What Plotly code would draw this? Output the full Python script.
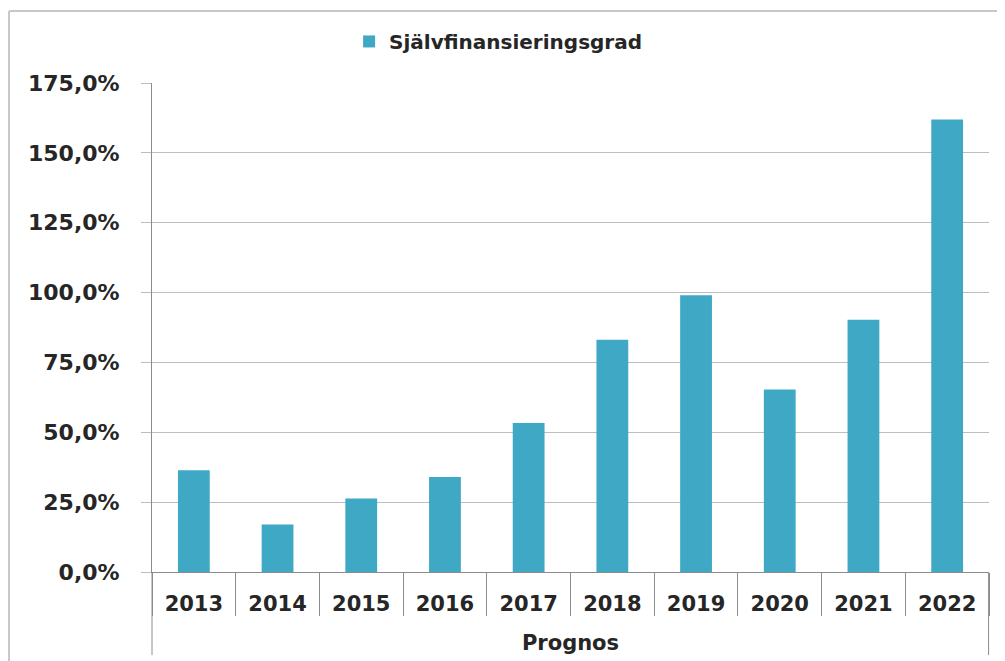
import plotly.graph_objects as go

years = ["2013", "2014", "2015", "2016", "2017", "2018", "2019", "2020", "2021", "2022"]
values = [36.4, 17.0, 26.3, 34.0, 53.3, 83.1, 99.0, 65.3, 90.3, 161.9]
series_name = "Självfinansieringsgrad"
x_title = "Prognos"
y_ticks = [0, 25, 50, 75, 100, 125, 150, 175]
y_ticktext = ["0,0%", "25,0%", "50,0%", "75,0%", "100,0%", "125,0%", "150,0%", "175,0%"]

FONT = "DejaVu Sans"
TXT = "#262626"
GRID = "#BDBDBD"
AXIS = "#8C8C8C"
BAR = "#3FA8C5"
FRAME = "#C8C8C8"

fig = go.Figure()
fig.add_trace(go.Bar(
    x=years,
    y=values,
    name=series_name,
    marker=dict(color=BAR, line=dict(width=0)),
    showlegend=True,
))

fig.update_layout(
    width=997, height=653,
    margin=dict(l=144, r=16, t=75, b=89, autoexpand=False),
    paper_bgcolor="white",
    plot_bgcolor="white",
    bargap=0.62,
    font=dict(family=FONT, color=TXT, size=20),
    showlegend=True,
    legend=dict(
        orientation="h", x=0.4135, xanchor="center", y=1.085, yanchor="middle",
        font=dict(family=FONT, size=20, color=TXT, weight="bold"),
        bgcolor="rgba(0,0,0,0)",
    ),
    xaxis=dict(
        type="category",
        showline=True, linecolor=AXIS, linewidth=1,
        ticks="outside", ticklen=43, tickcolor=AXIS, tickwidth=1,
        tickson="boundaries",
        ticklabelstandoff=13,
        tickfont=dict(family=FONT, size=21, color=TXT, weight="bold"),
        showgrid=False,
        title=dict(text=x_title, standoff=20,
                   font=dict(family=FONT, size=21, color=TXT, weight="bold")),
        automargin=False,
    ),
    yaxis=dict(
        range=[0, 175], tickvals=y_ticks, ticktext=y_ticktext,
        showgrid=True, gridcolor=GRID, gridwidth=1,
        showline=True, linecolor=AXIS, linewidth=1,
        ticks="outside", ticklen=10, tickcolor=GRID,
        ticklabelstandoff=17,
        tickfont=dict(family=FONT, size=22, color=TXT, weight="bold"),
        zeroline=False,
        automargin=False,
    ),
    shapes=[
        # outer chart frame
        dict(type="line", xref="paper", yref="paper", x0=-0.1708, x1=1.05, y0=1.147, y1=1.147,
             line=dict(color=FRAME, width=2)),
        dict(type="line", xref="paper", yref="paper", x0=-0.1708, x1=-0.1708, y0=1.147, y1=-0.2,
             line=dict(color=FRAME, width=2)),
        # long outer-group dividers at both ends of the category axis
        dict(type="line", xref="paper", yref="paper", x0=0, x1=0, y0=0, y1=-0.17,
             line=dict(color=AXIS, width=1)),
        dict(type="line", xref="paper", yref="paper", x0=0.9995, x1=0.9995, y0=0, y1=-0.17,
             line=dict(color=AXIS, width=1)),
    ],
)

fig.write_html("out.html")
